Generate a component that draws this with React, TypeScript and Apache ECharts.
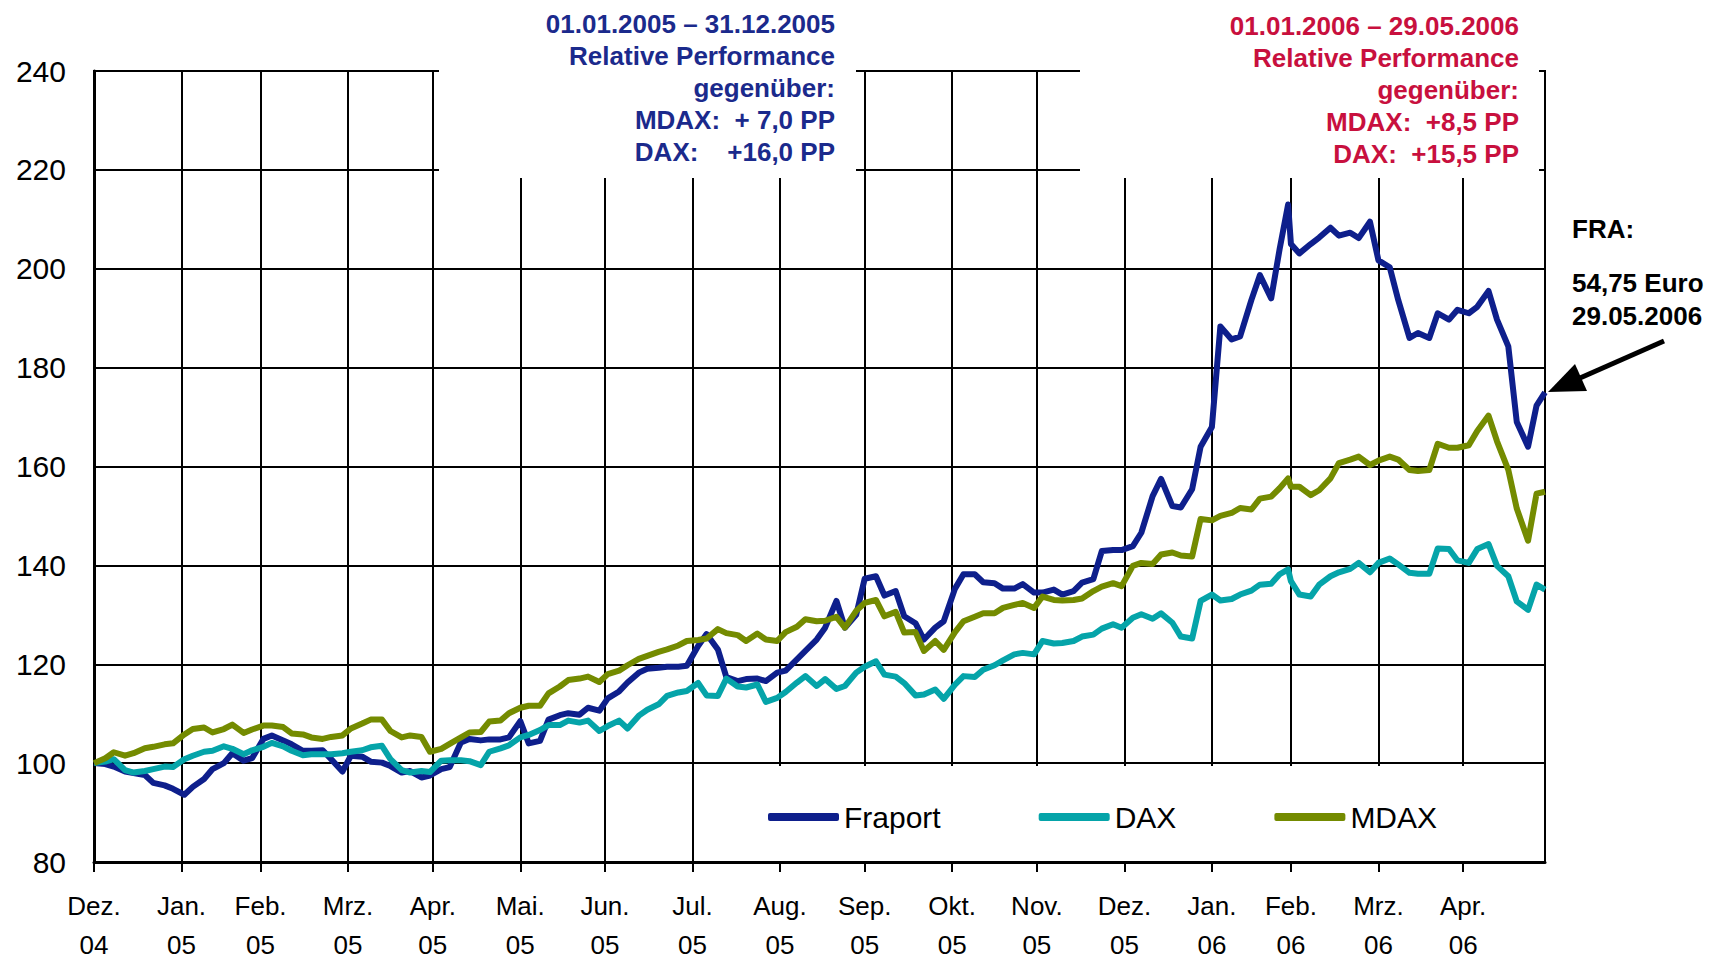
import React, { useEffect, useRef } from 'react';
import * as echarts from 'echarts';

// sampling dates (trading days, roughly Tue/Fri)
const dates = [
  '2004-12-31',
  '2005-01-04','2005-01-07','2005-01-11','2005-01-14','2005-01-18','2005-01-21','2005-01-25','2005-01-28',
  '2005-02-01','2005-02-04','2005-02-08','2005-02-11','2005-02-15','2005-02-18','2005-02-22','2005-02-25',
  '2005-03-01','2005-03-04','2005-03-08','2005-03-11','2005-03-15','2005-03-18','2005-03-22','2005-03-25','2005-03-29',
  '2005-04-01','2005-04-05','2005-04-08','2005-04-12','2005-04-15','2005-04-19','2005-04-22','2005-04-26','2005-04-29',
  '2005-05-03','2005-05-06','2005-05-10','2005-05-13','2005-05-17','2005-05-20','2005-05-24','2005-05-27','2005-05-31',
  '2005-06-03','2005-06-07','2005-06-10','2005-06-14','2005-06-17','2005-06-21','2005-06-24','2005-06-28',
  '2005-07-01','2005-07-05','2005-07-08','2005-07-12','2005-07-15','2005-07-19','2005-07-22','2005-07-26','2005-07-29',
  '2005-08-02','2005-08-05','2005-08-09','2005-08-12','2005-08-16','2005-08-19','2005-08-23','2005-08-26','2005-08-30',
  '2005-09-02','2005-09-06','2005-09-09','2005-09-13','2005-09-16','2005-09-20','2005-09-23','2005-09-27','2005-09-30',
  '2005-10-04','2005-10-07','2005-10-11','2005-10-14','2005-10-18','2005-10-21','2005-10-25','2005-10-28',
  '2005-11-01','2005-11-04','2005-11-08','2005-11-11','2005-11-15','2005-11-18','2005-11-22','2005-11-25','2005-11-29',
  '2005-12-02','2005-12-06','2005-12-09','2005-12-13','2005-12-16','2005-12-20','2005-12-23','2005-12-27','2005-12-30',
  '2006-01-03','2006-01-06','2006-01-10','2006-01-13','2006-01-17','2006-01-20','2006-01-24','2006-01-27','2006-01-31',
  '2006-02-03','2006-02-07','2006-02-10','2006-02-14','2006-02-17','2006-02-21','2006-02-24','2006-02-27','2006-02-28',
  '2006-03-03','2006-03-07','2006-03-10','2006-03-14','2006-03-17','2006-03-21','2006-03-24','2006-03-28','2006-03-31',
  '2006-04-04','2006-04-07','2006-04-11','2006-04-14','2006-04-18','2006-04-21','2006-04-25','2006-04-28',
  '2006-05-02','2006-05-05','2006-05-09','2006-05-12','2006-05-16','2006-05-19','2006-05-23','2006-05-26','2006-05-29',
];

const fraport = [
  100,
  99.8, 99.3, 98.3, 98, 97.6, 96, 95.5, 94.8,
  93.6, 95.2, 96.8, 98.8, 100, 102, 100.5, 101,
  104.9, 105.6, 104.6, 103.8, 102.5, 102.5, 102.6, 100.8, 98.3,
  101.5, 101.3, 100.3, 100.1, 99.4, 98.1, 98.4, 97.1, 97.5,
  98.8, 99.2, 104.2, 104.9, 104.6, 104.8, 104.8, 105.2, 108.5,
  104, 104.5, 108.8, 109.7, 110.1, 109.8, 111.2, 110.6,
  113.1, 114.5, 116.3, 118.3, 119.1, 119.3, 119.5, 119.5, 119.7,
  123.7, 126.1, 123, 117.4, 116.6, 117, 117.1, 116.6, 118.3,
  118.7, 121, 122.7, 125, 127.4, 132.8, 127.4, 130, 137.3,
  137.8, 133.9, 134.8, 129.7, 128.3, 125, 127.4, 128.7,
  135.3, 138.2, 138.2, 136.6, 136.4, 135.3, 135.3, 136.2, 134.5,
  134.5, 135.1, 134.1, 134.8, 136.5, 137.2, 142.9, 143.1, 143.1,
  143.9, 146.6, 154, 157.5, 152, 151.7, 155.4, 164, 168,
  188.3, 185.7, 186.3, 193.7, 198.7, 194, 204, 213, 205,
  203.1, 205, 206.3, 208.3, 206.7, 207.3, 206.2, 209.5, 201.7,
  200.3, 193.7, 186, 187, 186, 191, 189.7, 191.7,
  191, 192.3, 195.5, 189.7, 184.3, 169, 164, 172.3, 175,
];

const dax = [
  100,
  100.3, 100.8, 98.6, 98.1, 98.4, 98.8, 99.3, 99.2,
  100.8, 101.5, 102.3, 102.5, 103.4, 102.9, 101.8, 102.6,
  103.3, 104.1, 103.4, 102.5, 101.6, 101.8, 101.8, 101.8, 102,
  102.3, 102.6, 103.2, 103.5, 100.8, 98.6, 98.1, 98.4, 98.2,
  100.5, 100.6, 100.6, 100.4, 99.6, 102.3, 103, 103.6, 105.2,
  105.7, 106.7, 107.7, 107.7, 108.6, 108.2, 108.6, 106.5,
  107.5, 108.6, 107, 109.6, 110.8, 111.9, 113.6, 114.3, 114.6,
  116.2, 113.7, 113.6, 117.1, 115.5, 115.3, 115.9, 112.4, 113.2,
  114.4, 116.3, 117.6, 115.6, 117, 115, 115.6, 118.3, 119.5,
  120.6, 117.9, 117.5, 116.2, 113.7, 113.9, 114.9, 113,
  115.9, 117.6, 117.4, 118.9, 119.8, 120.8, 122, 122.3, 122,
  124.7, 124.2, 124.3, 124.7, 125.6, 126, 127.2, 128.1, 127.4,
  129.4, 130.1, 129.2, 130.3, 128.4, 125.6, 125.2, 132.8, 134.1,
  132.9, 133.2, 134.1, 134.9, 136.1, 136.3, 138.2, 139.2, 136.8,
  134.1, 133.7, 136.1, 137.8, 138.6, 139.3, 140.5, 138.6, 140.5,
  141.4, 140.2, 138.5, 138.3, 138.3, 143.4, 143.3, 141,
  140.5, 143.3, 144.3, 139.9, 137.8, 132.7, 131, 136.1, 135.1,
];

const mdax = [
  100,
  101, 102.2, 101.5, 102, 103, 103.3, 103.8, 104,
  105.8, 106.9, 107.2, 106.2, 106.9, 107.8, 106.1, 106.8,
  107.6, 107.6, 107.3, 106, 105.8, 105.2, 104.9, 105.3, 105.6,
  107, 108, 108.8, 108.8, 106.5, 105.2, 105.6, 105.3, 102.3,
  102.9, 103.9, 105.2, 106.2, 106.3, 108.4, 108.6, 110.1, 111.2,
  111.6, 111.6, 114.1, 115.5, 116.8, 117.1, 117.5, 116.4,
  118, 118.7, 119.8, 121.1, 121.7, 122.5, 123, 123.8, 124.7,
  124.9, 125.2, 127.1, 126.3, 125.9, 124.7, 126.2, 125, 124.7,
  126.5, 127.6, 129.1, 128.7, 128.8, 129.6, 127.4, 130.8, 132.4,
  133, 129.7, 130.6, 126.4, 126.5, 122.7, 124.7, 122.9,
  126.5, 128.7, 129.6, 130.3, 130.3, 131.4, 132, 132.4, 131.4,
  133.7, 133, 132.9, 133, 133.3, 134.8, 135.7, 136.4, 135.8,
  139.9, 140.5, 140.3, 142.2, 142.6, 142, 141.8, 149.4, 149.1,
  150, 150.6, 151.6, 151.3, 153.5, 153.9, 155.6, 157.6, 155.9,
  155.9, 154.2, 155.2, 157.6, 160.7, 161.4, 162, 160.3, 161.2,
  162, 161.4, 159.3, 159.1, 159.3, 164.6, 163.8, 163.8,
  164.3, 167.2, 170.3, 165.1, 159.3, 151.5, 145, 154.5, 154.9,
];

// month-end tick dates (each labelled with the month it closes)
const tickDates = [
  '2004-12-31','2005-01-31','2005-02-28','2005-03-31','2005-04-30','2005-05-31',
  '2005-06-30','2005-07-31','2005-08-31','2005-09-30','2005-10-31','2005-11-30',
  '2005-12-31','2006-01-31','2006-02-28','2006-03-31','2006-04-30',
];
const monthNames = ['Jan.','Feb.','Mrz.','Apr.','Mai.','Jun.','Jul.','Aug.','Sep.','Okt.','Nov.','Dez.'];
const startDate = '2004-12-31';
const endDate = '2006-05-29';

const seriesNames = ['Fraport', 'DAX', 'MDAX'];
const seriesColors = ['#0e1f8c', '#05a4a9', '#748b00'];

const note2005 = [
  '01.01.2005 – 31.12.2005',
  'Relative Performance',
  'gegenüber:',
  'MDAX:\u00a0\u00a0+ 7,0 PP',
  'DAX:\u00a0\u00a0\u00a0\u00a0+16,0 PP',
];
const note2006 = [
  '01.01.2006 – 29.05.2006',
  'Relative Performance',
  'gegenüber:',
  'MDAX:\u00a0\u00a0+8,5 PP',
  'DAX:\u00a0\u00a0+15,5 PP',
];
const priceNote = ['FRA:', '54,75 Euro', '29.05.2006'];

const DAY = 86400000;
const ts = (s: string) => {
  const [y, m, d] = s.split('-').map(Number);
  return Date.UTC(y, m - 1, d);
};
// days elapsed since the start date
const dayOf = (s: string) => Math.round((ts(s) - ts(startDate)) / DAY);

const FONT = "'Liberation Sans', Arial, sans-serif";

export default function App() {
  const ref = useRef<HTMLDivElement>(null);

  useEffect(() => {
    if (!ref.current) return;
    const chart = echarts.init(ref.current, null, { renderer: 'svg' });
    const tickValues = tickDates.map(dayOf);
    const gridLine = { color: '#000', width: 2 };
    const seriesData = [fraport, dax, mdax];

    const option: any = {
      animation: false,
      backgroundColor: '#fff',
      textStyle: { fontFamily: FONT },
      grid: {
        left: 94, right: 166, top: 71, bottom: 100,
        show: true, borderColor: '#000', borderWidth: 2,
      },
      xAxis: {
        type: 'value',
        min: 0,
        max: dayOf(endDate),
        axisLine: { show: true, onZero: false, lineStyle: { color: '#000', width: 3 } },
        axisTick: { show: true, length: 10, customValues: tickValues, lineStyle: { color: '#000', width: 2 } },
        axisLabel: {
          customValues: tickValues,
          margin: 24,
          color: '#000',
          fontFamily: FONT,
          fontSize: 26,
          lineHeight: 39,
          formatter: (v: number) => {
            const d = new Date(ts(startDate) + v * DAY);
            const yy = String(d.getUTCFullYear() % 100).padStart(2, '0');
            return monthNames[d.getUTCMonth()] + '\n' + yy;
          },
        },
        splitLine: { show: true, lineStyle: gridLine },
      },
      yAxis: {
        type: 'value',
        min: 80,
        max: 240,
        interval: 20,
        axisLine: { show: true, lineStyle: { color: '#000', width: 3 } },
        axisTick: { show: false },
        axisLabel: { color: '#000', fontFamily: FONT, fontSize: 30, margin: 28 },
        splitLine: { show: true, lineStyle: gridLine },
      },
      legend: {
        data: seriesNames,
        left: 763,
        top: 797,
        icon: 'roundRect',
        itemWidth: 71,
        itemHeight: 8,
        itemGap: 98,
        z: 20,
        textStyle: { color: '#000', fontFamily: FONT, fontSize: 30 },
      },
      series: seriesNames.map((name, k) => ({
        name,
        type: 'line',
        showSymbol: false,
        symbol: 'none',
        color: seriesColors[k],
        lineStyle: { width: 6, color: seriesColors[k], join: 'round' },
        z: 3,
        data: dates.map((d, i) => [dayOf(d), seriesData[k][i]]),
      })),
      graphic: [
        { type: 'rect', z: 1, shape: { x: 439, y: 60, width: 417, height: 118 }, style: { fill: '#fff' } },
        { type: 'rect', z: 1, shape: { x: 1080, y: 60, width: 459, height: 118 }, style: { fill: '#fff' } },
        { type: 'rect', z: 1, shape: { x: 718, y: 766, width: 824, height: 95 }, style: { fill: '#fff' } },
        {
          type: 'text', z: 10, x: 835, y: 8,
          style: {
            text: note2005.join('\n'), fill: '#1b2a8c',
            font: `bold 26px ${FONT}`, textAlign: 'right', textVerticalAlign: 'top', lineHeight: 32,
          },
        },
        {
          type: 'text', z: 10, x: 1519, y: 10,
          style: {
            text: note2006.join('\n'), fill: '#c8103e',
            font: `bold 26px ${FONT}`, textAlign: 'right', textVerticalAlign: 'top', lineHeight: 32,
          },
        },
        {
          type: 'text', z: 10, x: 1572, y: 216,
          style: { text: priceNote[0], fill: '#000', font: `bold 26px ${FONT}`, textAlign: 'left', textVerticalAlign: 'top' },
        },
        {
          type: 'text', z: 10, x: 1572, y: 266,
          style: {
            text: priceNote.slice(1).join('\n'), fill: '#000',
            font: `bold 26px ${FONT}`, textAlign: 'left', textVerticalAlign: 'top', lineHeight: 33,
          },
        },
        {
          type: 'line', z: 10,
          shape: { x1: 1664, y1: 341, x2: 1580, y2: 378 },
          style: { stroke: '#000', lineWidth: 5 },
        },
        {
          type: 'polygon', z: 10,
          shape: { points: [[1548, 392], [1575, 364], [1587, 391]] },
          style: { fill: '#000' },
        },
      ],
    };

    chart.setOption(option);
    return () => chart.dispose();
  }, []);

  return (
    <div
      ref={ref}
      style={{ position: 'absolute', left: 0, top: 0, width: 1711, height: 964, background: '#fff' }}
    />
  );
}
